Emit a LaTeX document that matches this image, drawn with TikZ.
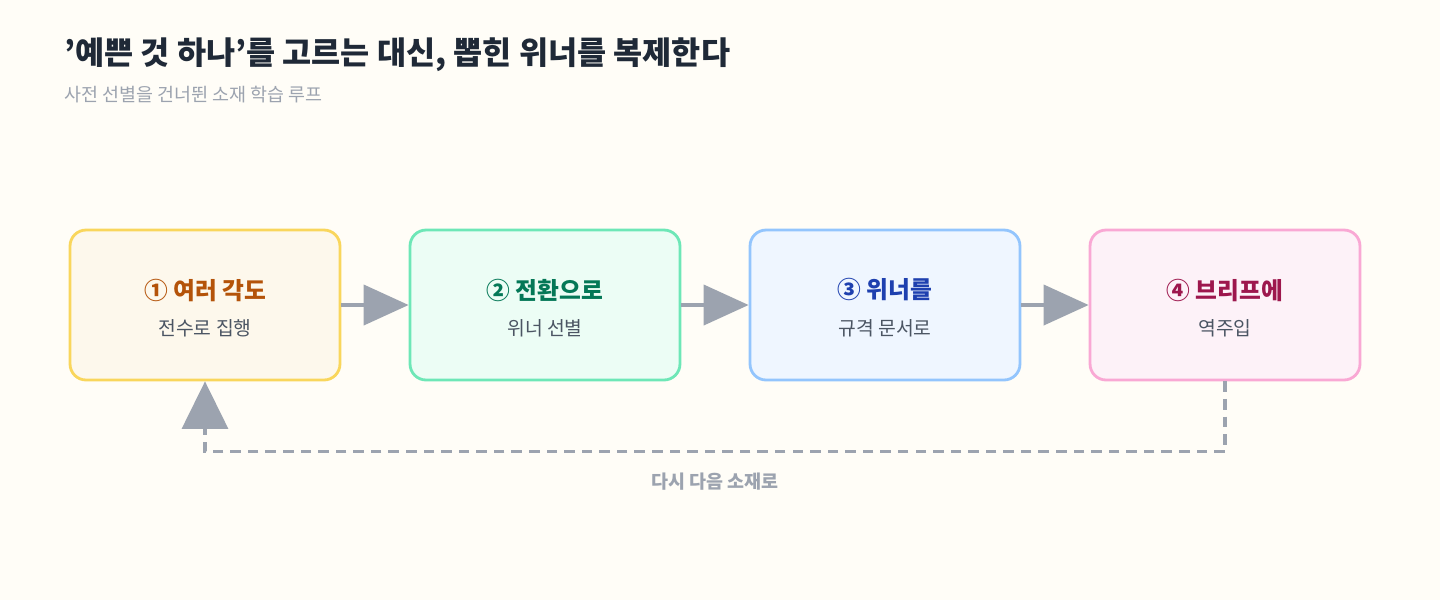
\documentclass[tikz,border=0pt]{standalone}
\usepackage{fontspec}
\setmainfont{Noto Sans CJK KR}
\usetikzlibrary{arrows.meta,positioning}
\definecolor{bgcol}{HTML}{FFFDF7}
\definecolor{titlecol}{HTML}{1F2937}
\definecolor{mutedcol}{HTML}{9CA3AF}
\definecolor{subcol}{HTML}{4B5563}
\definecolor{arrowcol}{HTML}{9CA3AF}
\definecolor{drawA}{HTML}{F9D65C}\definecolor{fillA}{HTML}{FDF8EC}
\definecolor{drawB}{HTML}{6EE7B7}\definecolor{fillB}{HTML}{ECFDF5}
\definecolor{drawC}{HTML}{93C5FD}\definecolor{fillC}{HTML}{EFF6FF}
\definecolor{drawD}{HTML}{F9A8D4}\definecolor{fillD}{HTML}{FDF2F8}
\tikzset{
  stepbox/.style={draw, rounded corners=0.32cm, line width=1.6pt, minimum width=5.4cm, minimum height=3cm, align=center},
  flow/.style={draw=arrowcol, line width=2.3pt, -{Triangle[length=0.9cm,width=0.8cm]}},
  back/.style={draw=arrowcol, line width=1.8pt, dash pattern=on 6pt off 4pt, -{Triangle[length=0.95cm,width=0.92cm]}},
}
\begin{document}
\begin{tikzpicture}[x=0.02cm,y=-0.02cm]
\fill[bgcol] (0,0) rectangle (1440,600);
\useasboundingbox (0,0) rectangle (1440,600);
%Titel
\node[anchor=west, text=titlecol, font=\fontsize{18}{20}\selectfont\bfseries] (title) at (58,55) {'예쁜 것 하나'를 고르는 대신, 뽑힌 위너를 복제한다};
\node[anchor=west, text=mutedcol, font=\fontsize{10.5}{12}\selectfont] (subtitle) at (58,95) {사전 선별을 건너뛴 소재 학습 루프};
%Schritte
\node[stepbox, draw=drawA, fill=fillA] (b1) at (205,305) {};
\node[stepbox, draw=drawB, fill=fillB] (b2) at (545,305) {};
\node[stepbox, draw=drawC, fill=fillC] (b3) at (885,305) {};
\node[stepbox, draw=drawD, fill=fillD] (b4) at (1225,305) {};
\foreach \b/\t/\s/\c in {b1/① 여러 각도/전수로 집행/B45309, b2/② 전환으로/위너 선별/047857, b3/③ 위너를/규격 문서로/1E40AF, b4/④ 브리프에/역주입/9D174D}{
  \definecolor{tc}{HTML}{\c}
  \node[text=tc, font=\fontsize{13.5}{15}\selectfont\bfseries] at ([yshift=0.3cm]\b) {\t};
  \node[text=subcol, font=\fontsize{11}{13}\selectfont] at ([yshift=-0.47cm]\b) {\s};
}
%Pfeile
\draw[flow] (b1) -- (b2);
\draw[flow] (b2) -- (b3);
\draw[flow] (b3) -- (b4);
\draw[back] (b4.south) -- ++(0,70) -| (b1.south);
\node[text=mutedcol, font=\fontsize{10.5}{12}\selectfont\bfseries] (backlabel) at (715,482) {다시 다음 소재로};
\end{tikzpicture}
\end{document}
